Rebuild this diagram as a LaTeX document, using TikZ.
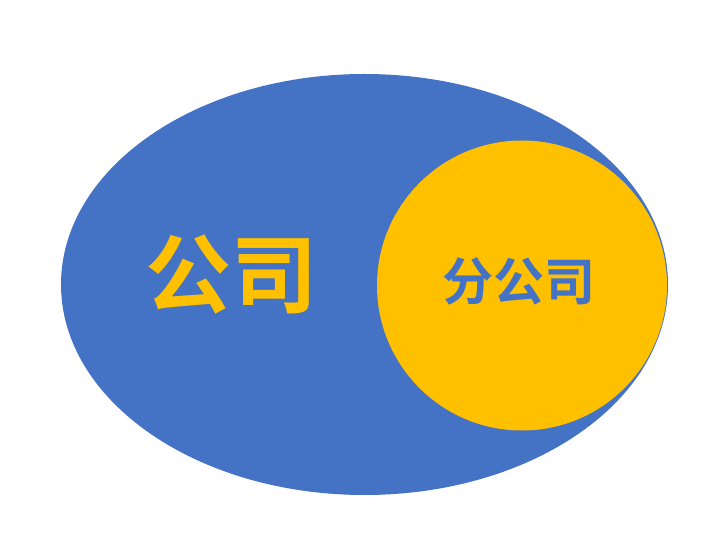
\documentclass[tikz,border=0pt]{standalone}
\usepackage{fontspec}
\newfontfamily\cjk{Noto Sans CJK SC}[BoldFont={* Bold}]
\definecolor{ppblue}{HTML}{4472C4}
\definecolor{ppyellow}{HTML}{FFC000}
\begin{document}
\begin{tikzpicture}[x=1pt,y=1pt]
\useasboundingbox (0,0) rectangle (720,557);
\fill[white] (0,0) rectangle (720,557);
\fill[ppblue] (364.5,272.5) ellipse [x radius=303.5, y radius=210.5];
\fill[ppyellow] (522,271.5) circle [radius=145];
\node[text=ppyellow, font=\cjk\bfseries\fontsize{86}{86}\selectfont, inner sep=0] (gs) at (231,282) {公司};
\node[text=ppblue, font=\cjk\bfseries\fontsize{51}{51}\selectfont, inner sep=0] (fgs) at (519,276) {分公司};
\end{tikzpicture}
\end{document}
